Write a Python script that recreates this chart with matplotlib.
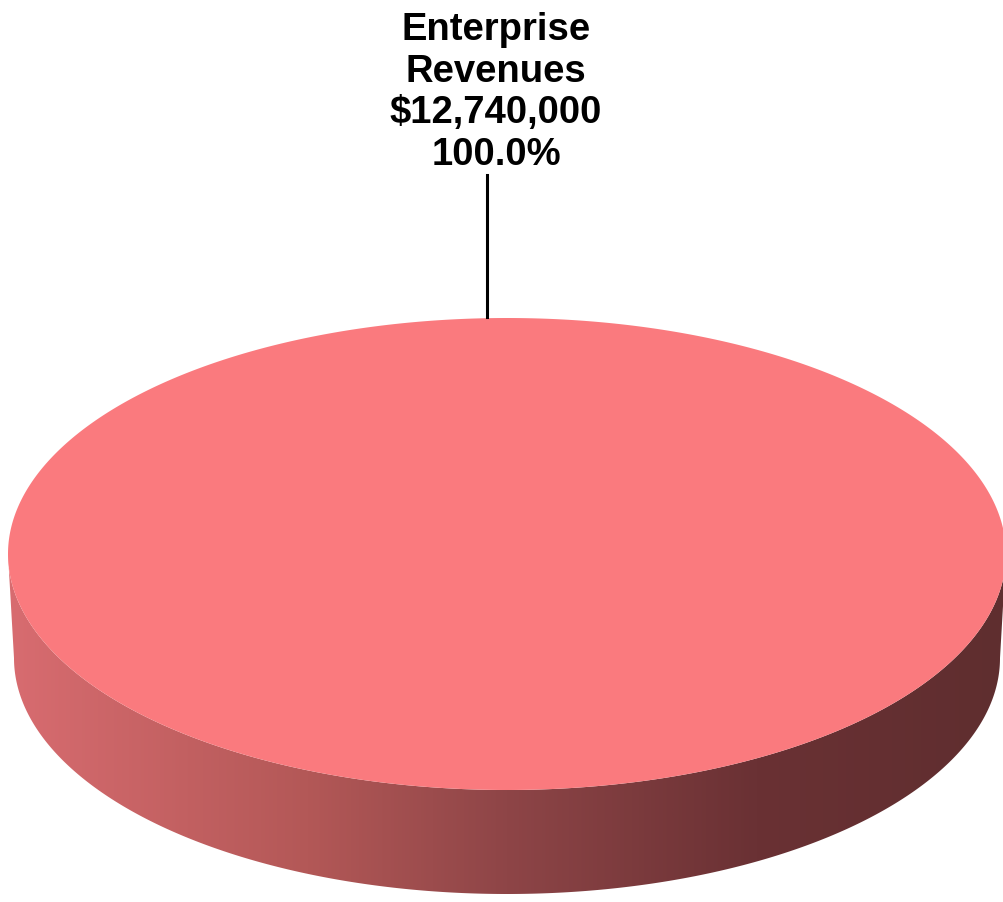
import numpy as np
import matplotlib.pyplot as plt
from matplotlib.patches import Polygon
from matplotlib.colors import LinearSegmentedColormap

# data
categories = ['Enterprise\nRevenues']
values = [12740000]

top_color = '#fa7a7e'
side_colors = [(0.0, '#d86c70'), (0.3, '#b35857'), (0.5, '#8e4547'),
               (0.75, '#6a3134'), (1.0, '#5f2e2f')]

W, H = 1004, 902
fig = plt.figure(figsize=(W / 100, H / 100), dpi=100)
ax = fig.add_axes([0, 0, 1, 1])
ax.set_xlim(0, W)
ax.set_ylim(H, 0)
ax.axis('off')

# pie geometry in pixels
cx, cy = 507, 554
a, b = 499, 236
depth = 104
a_bot = 493

total = sum(values)
start = 90.0
for v, lab in zip(values, categories):
    frac = v / total
    th = np.radians(np.linspace(start, start + 360 * frac, 721))
    xs = cx + a * np.cos(th)
    ys = cy - b * np.sin(th)

    # side wall (front half only)
    t = np.radians(np.linspace(180, 360, 400))
    top_x = cx + a * np.cos(t)
    top_y = cy - b * np.sin(t)
    bot_x = cx + a_bot * np.cos(t[::-1])
    bot_y = cy + depth - b * np.sin(t[::-1])
    side = Polygon(np.column_stack([np.r_[top_x, bot_x], np.r_[top_y, bot_y]]),
                   closed=True, facecolor='none', edgecolor='none')
    ax.add_patch(side)
    cmap = LinearSegmentedColormap.from_list('side', side_colors)
    grad = np.linspace(0, 1, 512).reshape(1, -1)
    im = ax.imshow(grad, cmap=cmap, extent=[cx - a, cx + a, cy + b + depth, cy],
                   aspect='auto', zorder=1)
    im.set_clip_path(side)

    # top face
    if frac < 1:
        pts = np.column_stack([np.r_[cx, xs], np.r_[cy, ys]])
    else:
        pts = np.column_stack([xs, ys])
    ax.add_patch(Polygon(pts, closed=True, facecolor=top_color,
                         edgecolor='none', zorder=2))

    # label with leader line
    mid = np.radians(start + 180 * frac) if frac < 1 else np.radians(start)
    lx = cx + a * np.cos(mid) - 20
    ly = cy - b * np.sin(mid)
    ax.plot([lx, lx], [ly - 1, ly - 143], color='black', lw=2.2, zorder=3)
    txt = f"{lab}\n${v:,.0f}\n{frac * 100:.1f}%"
    ax.text(lx + 9, ly - 145, txt, ha='center', va='bottom', fontsize=27.5,
            fontweight='bold', family='Liberation Sans', linespacing=1.2)

fig.savefig('out.png', dpi=100)
